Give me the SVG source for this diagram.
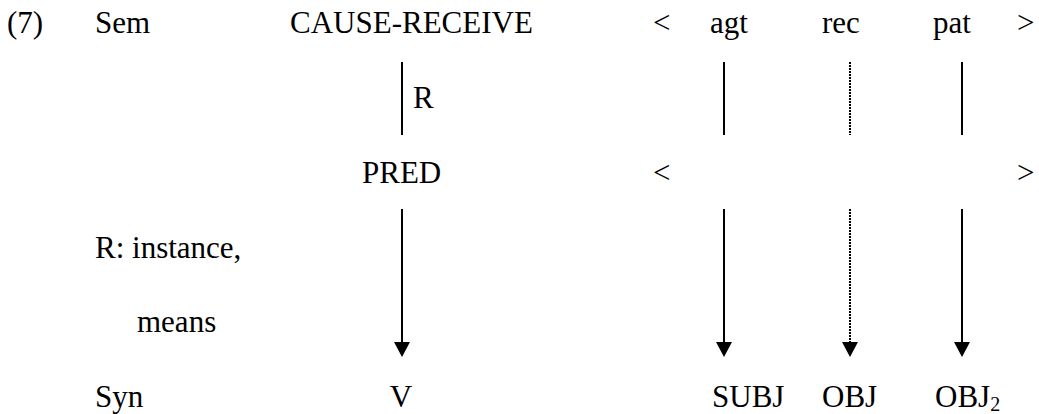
<svg xmlns="http://www.w3.org/2000/svg" width="1039" height="414" viewBox="0 0 1039 414">
  <style>
    text { font-family: "Liberation Serif", "Times New Roman", serif; font-size: 31px; fill: #000; }
    .ln { stroke: #000; stroke-width: 2; fill: none; }
    .dot { stroke-dasharray: 2 1; }
  </style>
  <defs>
    <marker id="head" viewBox="0 0 15 16" refX="8" refY="8" markerWidth="15" markerHeight="16" markerUnits="userSpaceOnUse" orient="auto">
      <path d="M0,0 L15,8 L0,16 z" fill="#000"/>
    </marker>
  </defs>
  <rect width="1039" height="414" fill="#fff"/>

  <!-- row labels -->
  <g id="labels">
    <text x="7" y="33">(7)</text>
    <text x="95" y="33">Sem</text>
    <text x="95" y="258">R: instance,</text>
    <text x="137" y="332">means</text>
    <text x="95" y="407">Syn</text>
  </g>

  <!-- semantic level -->
  <g id="sem">
    <text x="290" y="33">CAUSE-RECEIVE</text>
    <text x="653" y="33">&lt;</text>
    <text x="710" y="33">agt</text>
    <text x="822" y="33">rec</text>
    <text x="933" y="33">pat</text>
    <text x="1017" y="33">&gt;</text>
  </g>

  <!-- predicate level -->
  <g id="pred">
    <text x="362" y="183">PRED</text>
    <text x="653" y="183">&lt;</text>
    <text x="1017" y="183">&gt;</text>
    <text x="413" y="108">R</text>
  </g>

  <!-- syntactic level -->
  <g id="syn">
    <text x="401" y="407" text-anchor="middle">V</text>
    <text x="712" y="407">SUBJ</text>
    <text x="822" y="407">OBJ</text>
    <text x="935" y="407">OBJ<tspan font-size="20" dy="4">2</tspan></text>
  </g>

  <!-- connectors -->
  <g id="connectors">
    <line class="ln" x1="402" y1="62" x2="402" y2="135"/>
    <line class="ln" x1="724" y1="62" x2="724" y2="135"/>
    <line class="ln dot" x1="850" y1="62" x2="850" y2="135"/>
    <line class="ln" x1="962" y1="62" x2="962" y2="135"/>

    <line class="ln" x1="402" y1="209" x2="402" y2="350" marker-end="url(#head)"/>
    <line class="ln" x1="724" y1="209" x2="724" y2="350" marker-end="url(#head)"/>
    <line class="ln dot" x1="850" y1="209" x2="850" y2="350" marker-end="url(#head)"/>
    <line class="ln" x1="962" y1="209" x2="962" y2="350" marker-end="url(#head)"/>
  </g>
</svg>
